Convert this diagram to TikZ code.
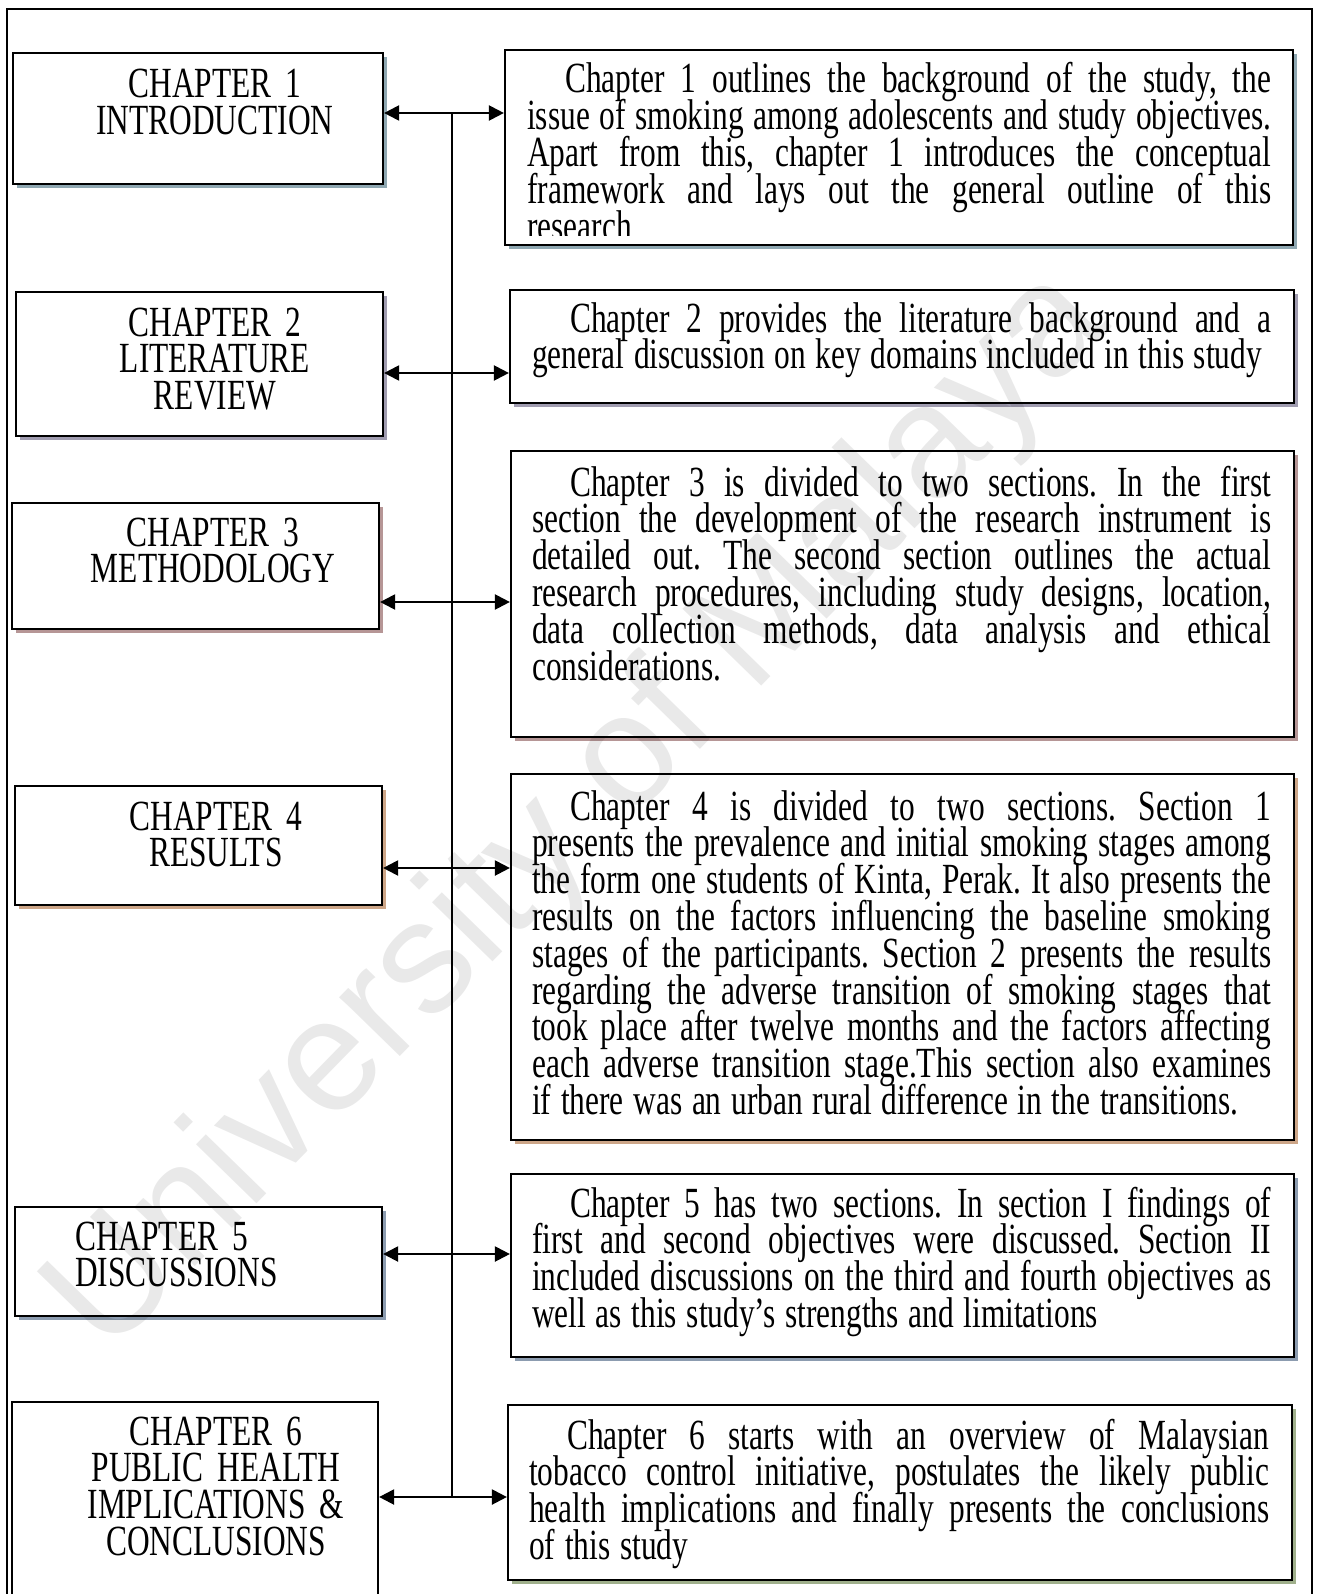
\documentclass[tikz,border=0pt]{standalone}
\usepackage{fontspec}
\setmainfont{Liberation Serif}[FakeStretch=0.73]
\newfontfamily\wmfont{Liberation Sans}
\usetikzlibrary{arrows.meta}

\definecolor{shOne}{RGB}{143,168,178}
\definecolor{shTwo}{RGB}{160,156,176}
\definecolor{shThree}{RGB}{182,150,150}
\definecolor{shFour}{RGB}{205,166,136}
\definecolor{shFive}{RGB}{140,156,176}
\definecolor{shSix}{RGB}{160,176,140}

% body text: condensed serif with a tight, fixed line pitch
\newcommand{\bodyfont}{\fontsize{43}{36.8}\selectfont\lineskiplimit=-200pt\lineskip=0pt}

% word-by-word line builder: every blank between words becomes \wsp
\def\jw#1 #2\jend{#1\if\relax\detokenize{#2}\relax\else\wsp\jw#2\jend\fi}
\def\jglue{\hskip 5pt plus 1fil\relax}
\def\nglue{\hskip 9.7pt\relax}
\newlength{\sumw}
% justified first line (indented), justified inner line, ragged last line
\newcommand{\firstline}[1]{\hbox to \sumw{\hskip 38pt\let\wsp\jglue\jw#1 \jend}}
\newcommand{\fullline}[1]{\hbox to \sumw{\let\wsp\jglue\jw#1 \jend}}
\newcommand{\lastline}[1]{\hbox{\let\wsp\nglue\jw#1 \jend}}
% stack of lines at a fixed pitch, baseline on the first line
\newcommand{\lines}[2]{\setlength{\sumw}{#1}\vtop{\hsize=\sumw\baselineskip=36.8pt
  \lineskiplimit=-200pt\lineskip=0pt\parskip=0pt #2}}

\tikzset{
  chbox/.style={draw, line width=2.2pt, fill=white, inner sep=0pt,
    preaction={draw=none, fill=#1, transform canvas={xshift=4pt,yshift=-4pt}}},
  plainbox/.style={draw, line width=2.2pt, fill=white, inner sep=0pt},
  chtitle/.style={font=\bodyfont, inner sep=0pt, text width=360pt, align=center, anchor=base},
  chtitleleft/.style={font=\bodyfont, inner sep=0pt, text width=300pt, align=left, anchor=base west},
  summary/.style={font=\bodyfont, inner sep=0pt, anchor=base west},
  bus/.style={line width=1.7pt},
  conn/.style={line width=2.2pt, -{Triangle[length=15pt,width=15pt]}},
  frame/.style={line width=2pt},
  wmark/.style={font=\wmfont\fontsize{160}{160}\selectfont, text=black, opacity=0.085,
    inner sep=0pt, anchor=base, rotate=45.7}
}

\begin{document}
\begin{tikzpicture}[x=1pt,y=-1pt]
\useasboundingbox (0,0) rectangle (1316,1594);
\clip (0,0) rectangle (1316,1594);

% outer frame
\draw[frame] (7,1620) -- (7,9) -- (1312,9) -- (1312,1620);

% chapter boxes (left)
\node[chbox=shOne,   minimum width=370pt, minimum height=131pt] (L1) at (198,118.5) {};
\node[chbox=shTwo,   minimum width=367pt, minimum height=144pt] (L2) at (199.5,364) {};
\node[chbox=shThree, minimum width=367pt, minimum height=126pt] (L3) at (195.5,566) {};
\node[chbox=shFour,  minimum width=367pt, minimum height=119pt] (L4) at (198.5,845.5) {};
\node[chbox=shFive,  minimum width=367pt, minimum height=109pt] (L5) at (198.5,1261.5) {};
\node[plainbox,      minimum width=366pt, minimum height=248pt] (L6) at (195,1526) {};

% summary boxes (right)
\node[chbox=shOne,   minimum width=788pt, minimum height=195pt] (R1) at (899,147.5) {};
\node[chbox=shTwo,   minimum width=784pt, minimum height=113pt] (R2) at (902,346.5) {};
\node[chbox=shThree, minimum width=783pt, minimum height=286pt] (R3) at (902.5,594) {};
\node[chbox=shFour,  minimum width=783pt, minimum height=366pt] (R4) at (902.5,957) {};
\node[chbox=shFive,  minimum width=783pt, minimum height=183pt] (R5) at (902.5,1265.5) {};
\node[chbox=shSix,   minimum width=784pt, minimum height=175pt] (R6) at (900,1492.5) {};

% chapter titles
\node[chtitle] (C1) at (215,98) {CHAPTER 1\\INTRODUCTION};
\node[chtitle] (C2) at (215,336) {CHAPTER 2\\LITERATURE\\REVIEW};
\node[chtitle] (C3) at (213,546) {CHAPTER 3\\METHODOLOGY};
\node[chtitle] (C4) at (216,830) {CHAPTER 4\\RESULTS};
\node[chtitleleft] (C5) at (75,1250) {CHAPTER 5\\DISCUSSIONS};
\node[chtitle] (C6) at (216,1445) {CHAPTER 6\\PUBLIC HEALTH\\IMPLICATIONS \&\\CONCLUSIONS};

% chapter summaries
\begin{scope}
\clip (R1.north west) rectangle (1293,236);
\node[summary] (T1) at (527,93) {\lines{744pt}{%
\firstline{Chapter 1 outlines the background of the study, the}
\fullline{issue of smoking among adolescents and study objectives.}
\fullline{Apart from this, chapter 1 introduces the conceptual}
\fullline{framework and lays out the general outline of this}
\lastline{research}}};
\end{scope}

\node[summary] (T2) at (532,332) {\lines{739pt}{%
\firstline{Chapter 2 provides the literature background and a}
\lastline{general discussion on key domains included in this study}}};

\node[summary] (T3) at (532,496) {\lines{739pt}{%
\firstline{Chapter 3 is divided to two sections. In the first}
\fullline{section the development of the research instrument is}
\fullline{detailed out. The second section outlines the actual}
\fullline{research procedures, including study designs, location,}
\fullline{data collection methods, data analysis and ethical}
\lastline{considerations.}}};

\node[summary] (T4) at (532,820) {\lines{739pt}{%
\firstline{Chapter 4 is divided to two sections. Section 1}
\fullline{presents the prevalence and initial smoking stages among}
\fullline{the form one students of Kinta, Perak. It also presents the}
\fullline{results on the factors influencing the baseline smoking}
\fullline{stages of the participants. Section 2 presents the results}
\fullline{regarding the adverse transition of smoking stages that}
\fullline{took place after twelve months and the factors affecting}
\fullline{each adverse transition stage.This section also examines}
\lastline{if there was an urban rural difference in the transitions.}}};

\node[summary] (T5) at (532,1217) {\lines{739pt}{%
\firstline{Chapter 5 has two sections. In section I findings of}
\fullline{first and second objectives were discussed. Section II}
\fullline{included discussions on the third and fourth objectives as}
\lastline{well as this study’s strengths and limitations}}};

\node[summary] (T6) at (529,1449) {\lines{740pt}{%
\firstline{Chapter 6 starts with an overview of Malaysian}
\fullline{tobacco control initiative, postulates the likely public}
\fullline{health implications and finally presents the conclusions}
\lastline{of this study}}};

% bus and connectors
\coordinate (J1) at (452,113);
\coordinate (J2) at (452,373);
\coordinate (J3) at (452,602);
\coordinate (J4) at (452,868);
\coordinate (J5) at (452,1254);
\coordinate (J6) at (452,1497);
\draw[bus] (J1) -- (J6);
\foreach \i in {1,...,6}{
  \draw[conn] (J\i) -- (J\i -| L\i.east);
  \draw[conn] (J\i) -- (J\i -| R\i.west);
}

% watermark
\node[wmark] (WM) at (610,842) {University of Malaya};
\end{tikzpicture}
\end{document}
